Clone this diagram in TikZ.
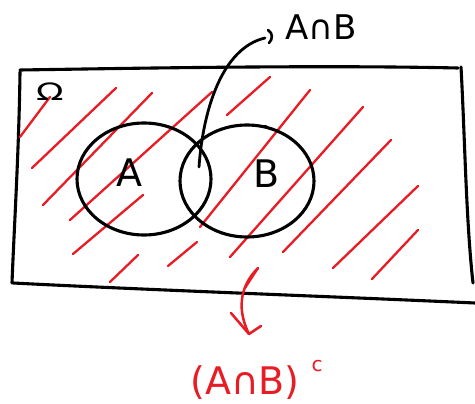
\documentclass[tikz,border=0pt]{standalone}
\usepackage{fontspec}
\setmainfont{DejaVu Sans}
\usetikzlibrary{arrows.meta}
\definecolor{hred}{RGB}{232,28,36}
\begin{document}
\begin{tikzpicture}[x=1pt,y=-1pt,
  ink/.style={draw=black,line width=3.1pt,line cap=round,line join=round},
  hatch/.style={draw=hred,line width=2.3pt,line cap=round},
  lbl/.style={inner sep=0pt,font=\fontsize{38}{38}\selectfont},
  redlbl/.style={inner sep=0pt,text=hred,font=\fontsize{38}{38}\selectfont}]
\useasboundingbox (0,0) rectangle (475,404);
% universe box
\draw[ink] (20,72) .. controls (19,150) and (14,230) .. (12,283);
\draw[ink] (20,70) .. controls (150,68) and (320,65) .. (458,68);
\draw[ink] (461,67) .. controls (465,140) and (466,220) .. (473,283);
\draw[ink] (13,283) .. controls (150,290) and (320,296) .. (475,303);
% hatching
\foreach \ax/\ay/\bx/\by in {20/137/50/97, 32/168/116/88, 43/205/152/93,
  70/220/212/92, 73/254/143/195, 110/282/138/255, 168/266/197/242,
  200/227/310/90, 227/115/270/77, 230/257/363/107, 283/252/391/140,
  333/268/418/186, 372/279/418/230, 245/288/258/268}
  \draw[hatch] (\ax,\ay) -- (\bx,\by);
% sets
\draw[ink] (144,179) ellipse [x radius=67, y radius=56];
\draw[ink] (247,181) ellipse [x radius=67, y radius=56];
\draw[ink,line width=2.6pt] (253,126) -- (266,126);
\node[lbl] (A) at (129,173) {A};
\node[lbl] (B) at (267,174) {B};
\node[inner sep=0pt,font=\fontsize{24}{24}\selectfont,xscale=1.5] (om) at (50,92) {Ω};
% intersection label
\node[inner sep=0pt,font=\fontsize{34}{34}\selectfont] (ab) at (321,27) {A∩B};
\coordinate (ipt) at (199,167);
\coordinate (tail) at (265,38);
\draw[ink,line width=2.8pt] (ipt) .. controls (203,110) and (222,48) .. (tail);
\draw[ink,line width=2.6pt] (268,30) .. controls (273,33) and (273,39) .. (269,43);
% complement label and arrow
\node[redlbl] (comp) at (245,383) {(A∩B)};
\node[inner sep=0pt,text=hred,font=\fontsize{20}{20}\selectfont] (sup) at (317,366) {c};
\coordinate (as) at (258,268);
\coordinate (at) at (249,334);
\draw[hatch,line width=2.5pt] (as) .. controls (238,288) and (238,312) .. (at);
\draw[hatch,line width=2.5pt,line join=round] (231,313) -- (at) -- (261,326);
\end{tikzpicture}
\end{document}
